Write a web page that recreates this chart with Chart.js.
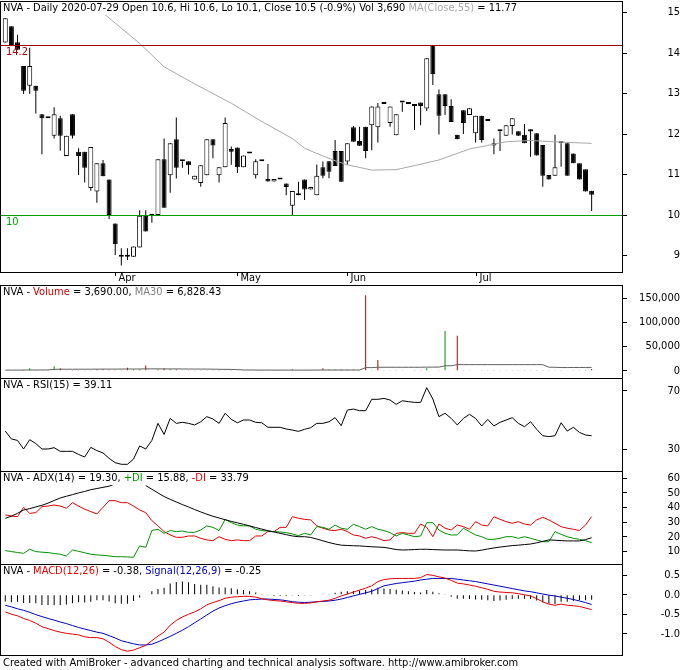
<!DOCTYPE html>
<html>
<head>
<meta charset="utf-8">
<script src="https://cdn.jsdelivr.net/npm/chart.js@4.4.0/dist/chart.umd.min.js"></script>
<style>
  body { margin: 0; background: #fff; width: 683px; height: 670px; position: relative; overflow: hidden; }
  canvas { position: absolute; left: 0; }
  #foot { position: absolute; left: 3px; top: 656px; font: 11px "DejaVu Sans Condensed", "DejaVu Sans", sans-serif; color: #000; white-space: nowrap; }
</style>
</head>
<body>
<canvas id="pricePane" width="683" height="285" style="top:0px"></canvas>
<canvas id="volPane" width="683" height="94" style="top:285px"></canvas>
<canvas id="rsiPane" width="683" height="94" style="top:378px"></canvas>
<canvas id="adxPane" width="683" height="94" style="top:471px"></canvas>
<canvas id="macdPane" width="683" height="92" style="top:564px"></canvas>
<div id="foot">Created with AmiBroker - advanced charting and technical analysis software. http://www.amibroker.com</div>
<script>
// daily bars, oldest first, last bar is 2020-07-29
const open = [14.26,14.66,14.27,13.68,13.19,13.19,12.49,12.39,11.96,12.39,
  11.46,12.49,11.56,11.56,10.67,10.58,11.28,10.88,9.79,8.97,
  8.97,8.97,9.20,9.98,9.98,10.00,11.38,10.98,11.87,11.33,
  11.33,10.88,10.79,10.98,11.87,10.98,11.18,11.63,11.67,11.18,
  11.52,10.98,11.33,10.89,10.83,10.88,10.78,10.23,10.49,10.88,
  10.63,10.49,11.18,11.33,11.58,11.58,11.32,12.17,11.83,12.18,
  12.22,12.17,12.79,12.27,11.97,12.78,12.79,12.74,12.78,12.63,
  14.20,12.98,12.98,12.69,11.98,12.59,12.47,12.02,12.45,12.32,
  11.72,12.07,11.96,12.20,12.07,11.98,12.12,12.02,11.73,10.99,
  10.97,11.77,11.77,11.52,11.28,11.13,10.60];
const high = [14.86,14.66,14.45,13.68,14.13,13.19,12.49,12.39,12.66,12.45,
  11.96,12.49,11.65,11.56,11.68,11.28,11.36,10.88,9.79,9.18,
  9.18,9.22,10.12,10.12,9.98,11.38,11.89,11.77,12.41,11.33,
  11.33,10.97,11.23,11.87,11.87,11.18,12.41,11.69,11.67,11.47,
  11.52,11.38,11.33,11.26,10.89,10.88,10.78,10.59,10.82,10.88,
  10.69,11.25,11.32,11.33,11.85,11.58,11.77,12.20,12.18,12.18,
  12.68,12.77,12.79,12.68,12.49,12.78,12.79,12.74,12.78,13.87,
  14.20,13.10,12.98,12.86,11.98,12.59,12.64,12.45,12.45,12.32,
  11.89,12.07,12.22,12.39,12.07,12.25,12.12,12.02,11.73,10.99,
  11.98,11.77,11.77,11.52,11.28,11.13,10.60];
const low = [14.26,14.20,14.08,12.99,12.99,12.51,11.50,12.39,11.89,11.59,
  11.46,11.89,10.99,10.80,10.60,10.30,10.96,9.90,9.01,8.75,
  8.89,8.97,9.20,9.59,9.81,10.00,10.18,10.55,10.90,11.17,
  11.00,10.88,10.70,10.98,11.40,10.80,11.18,11.24,11.04,11.18,
  11.52,10.90,11.33,10.83,10.83,10.88,10.49,10.00,10.49,10.37,
  10.63,10.49,10.91,10.91,11.21,10.82,11.24,11.81,11.71,11.40,
  11.60,11.79,12.74,12.18,11.97,12.55,12.74,12.10,12.22,12.57,
  13.21,11.99,12.47,12.30,11.87,12.00,12.47,11.79,11.79,12.32,
  11.50,11.58,11.96,11.99,11.96,11.77,11.44,11.47,10.70,10.88,
  10.97,11.19,10.97,11.28,10.88,10.58,10.10];
const close = [14.86,14.20,14.08,13.07,13.68,13.07,12.39,12.39,12.49,11.96,
  11.96,11.96,11.46,11.17,11.68,11.28,10.96,10.00,9.28,8.97,
  8.97,9.22,9.98,9.59,9.98,11.38,10.18,11.77,11.17,11.33,
  11.23,10.97,11.23,11.87,11.72,11.18,12.27,11.56,11.18,11.47,
  11.52,11.33,11.33,10.83,10.89,10.88,10.69,10.59,10.49,10.63,
  10.69,10.97,10.97,11.07,11.21,10.82,11.77,11.81,11.71,11.58,
  12.68,12.68,12.74,12.68,12.49,12.78,12.74,12.69,12.69,13.87,
  13.48,12.45,12.69,12.30,11.87,12.27,12.64,12.45,11.85,12.32,
  11.77,12.07,12.22,12.39,11.96,11.77,12.06,11.47,10.97,10.88,
  11.18,11.77,10.97,11.28,10.88,10.58,10.50];
// MA(Close,55) (gaps are bridged)
const priceMA55 = [null,null,null,null,null,null,null,null,null,null,
  null,null,null,null,null,15.12,14.99,null,null,null,
  null,null,14.24,null,null,null,13.66,null,null,null,
  null,13.24,null,null,null,null,null,12.76,null,null,
  null,null,12.31,null,null,null,null,11.89,null,11.65,
  null,11.52,null,null,11.34,null,11.24,null,null,null,
  11.11,null,null,null,11.12,null,null,11.22,null,null,
  null,11.36,null,null,null,null,11.63,null,null,null,
  null,null,11.81,null,null,null,11.84,null,null,null,
  null,11.80,null,null,null,null,11.77];
const volume = [1000,800,500,2200,5000,600,500,400,9000,5000,
  400,500,600,500,400,3000,3000,2000,2000,2000,
  6000,3000,3000,11000,800,3000,5000,3000,3000,500,
  500,500,500,500,500,1200,1200,300,300,300,
  300,300,300,300,300,300,300,3000,300,300,
  300,300,5000,2500,2500,2500,2500,2500,1500,156000,
  500,22000,300,300,300,300,1000,300,300,5000,
  1000,300,82000,1000,72000,300,300,1000,300,300,
  300,300,300,300,300,300,300,300,300,300,
  300,300,1000,300,300,300,3690];
const volMA30 = [1200,1250,1300,1350,1450,1450,1500,1550,2800,3000,
  3000,3000,3100,3100,3100,3200,3300,3300,3300,3400,
  3500,3500,3500,3800,3800,3800,3700,3700,3700,3600,
  3500,3400,3400,3300,3200,2900,2800,2700,2400,1500,
  1500,1400,1400,1400,1300,1300,1300,1300,1300,1300,
  1300,1400,1400,1400,1400,1400,1400,1400,1400,6400,
  6400,7100,7100,7100,7100,7100,7100,7100,7100,7400,
  7400,7400,10100,10100,12500,12500,12500,12500,12500,12500,
  12500,12500,12500,12500,12500,12500,12500,12500,12500,7200,
  7100,6500,6500,6600,6600,6700,6830];
const rsi15 = [42.3,36.9,35.9,30.0,36.4,33.7,30.0,30.0,30.9,28.4,
  28.4,28.4,26.3,24.5,31.1,28.9,27.3,23.6,20.6,19.5,
  19.5,23.1,32.1,30.0,35.9,47.6,40.0,51.0,47.6,48.3,
  47.6,46.5,48.7,52.2,50.6,47.6,54.5,50.3,48.0,49.9,
  49.9,48.3,48.0,44.9,44.9,44.9,43.7,43.0,42.1,43.5,
  44.6,47.6,47.6,48.7,51.5,46.0,56.7,57.4,56.3,56.3,
  64.1,64.1,64.7,63.6,60.6,63.1,62.5,62.0,62.0,72.1,
  64.3,52.2,54.5,51.0,46.5,51.0,53.8,51.0,45.8,50.3,
  45.8,48.3,49.9,51.5,47.6,45.3,48.7,43.5,39.1,38.5,
  39.1,48.0,42.3,44.9,41.4,39.6,39.11];
const adx14 = [32.6,34.0,36.0,38.3,39.2,40.4,41.5,43.0,44.8,46.5,
  47.7,48.8,50.0,51.0,52.2,53.0,53.8,54.6,56.2,null,
  null,null,null,55.0,52.5,50.0,47.5,45.6,43.8,42.0,
  40.4,38.6,37.0,35.4,34.0,32.8,31.6,30.5,29.5,28.5,
  27.4,26.3,25.2,24.1,23.2,22.3,21.4,20.5,20.0,20.0,
  19.5,18.4,17.2,16.0,15.0,14.2,14.0,13.8,13.7,13.4,
  13.1,12.9,12.7,12.0,11.2,10.9,11.0,11.2,11.4,11.4,
  11.2,11.0,10.9,10.9,10.9,10.6,10.3,10.2,10.8,11.6,
  12.3,12.9,13.4,13.9,14.2,14.6,15.0,15.8,16.8,17.8,
  17.6,17.3,17.1,17.1,17.1,18.0,19.3];
const plusDI = [10.5,9.8,9.2,8.6,11.4,9.8,9.4,9.1,8.5,8.0,
  6.8,10.9,10.0,9.0,8.0,7.5,7.3,6.8,6.3,6.3,
  6.1,5.9,13.7,12.7,24.2,25.1,22.3,24.2,23.5,23.9,
  23.0,23.0,24.6,27.4,26.4,24.2,31.9,29.6,28.0,27.4,
  27.4,25.1,24.2,23.9,23.5,23.2,22.8,21.9,20.7,22.3,
  21.2,26.9,26.4,25.1,28.0,25.8,25.1,28.5,26.9,25.1,
  26.9,25.1,24.2,22.8,20.5,22.3,21.2,20.0,20.5,29.6,
  29.6,24.6,22.3,21.2,21.2,25.8,23.5,21.2,20.0,18.2,
  18.2,18.9,20.0,20.0,18.9,20.0,18.9,17.8,16.6,16.6,
  23.5,21.6,20.0,18.9,18.2,17.3,15.88];
const minusDI = [34.9,34.2,33.7,40.1,36.0,36.5,40.6,41.0,41.7,41.0,
  39.5,43.3,41.0,38.8,37.2,35.6,40.1,44.7,44.7,43.3,
  43.3,41.0,38.3,36.5,31.0,27.4,23.5,21.2,19.6,19.6,
  20.5,20.5,18.9,17.8,17.3,20.0,18.2,17.3,17.8,17.3,
  17.3,20.5,20.5,23.5,23.5,26.4,26.4,33.7,32.6,31.9,
  31.5,27.4,25.8,24.6,24.2,25.1,23.5,21.2,20.5,18.9,
  20.0,18.9,17.3,17.8,22.3,22.8,22.3,22.3,28.7,26.4,
  20.0,28.7,25.8,24.6,28.0,26.9,25.1,30.3,28.0,27.4,
  33.7,31.9,30.3,29.2,30.3,28.7,28.0,31.5,33.3,31.5,
  29.2,26.9,25.8,25.1,24.2,28.0,33.79];
const macd = [-0.44,-0.50,-0.54,-0.61,-0.66,-0.73,-0.82,-0.87,-0.92,-0.96,
  -0.99,-1.01,-1.03,-1.08,-1.10,-1.10,-1.13,-1.22,-1.33,-1.41,
  -1.45,-1.42,-1.36,-1.30,-1.18,-1.06,-0.96,-0.78,-0.66,-0.57,
  -0.50,-0.44,-0.36,-0.26,-0.20,-0.15,-0.09,-0.06,-0.05,-0.04,
  -0.04,-0.06,-0.10,-0.13,-0.15,-0.16,-0.18,-0.20,-0.22,-0.22,
  -0.21,-0.18,-0.16,-0.14,-0.09,-0.03,0.02,0.07,0.12,0.17,
  0.23,0.34,0.39,0.41,0.42,0.42,0.42,0.42,0.44,0.52,
  0.50,0.46,0.43,0.37,0.30,0.28,0.25,0.22,0.18,0.14,
  0.09,0.07,0.06,0.05,0.03,0.00,-0.03,-0.10,-0.18,-0.24,
  -0.27,-0.24,-0.27,-0.28,-0.30,-0.34,-0.38];
const signal = [-0.27,-0.31,-0.36,-0.40,-0.45,-0.51,-0.56,-0.61,-0.65,-0.70,
  -0.74,-0.79,-0.84,-0.88,-0.92,-0.96,-0.99,-1.05,-1.11,-1.18,
  -1.22,-1.26,-1.29,-1.29,-1.27,-1.21,-1.14,-1.07,-0.99,-0.91,
  -0.82,-0.72,-0.62,-0.52,-0.42,-0.34,-0.28,-0.23,-0.19,-0.16,
  -0.13,-0.12,-0.11,-0.11,-0.12,-0.13,-0.15,-0.18,-0.19,-0.20,
  -0.19,-0.18,-0.17,-0.16,-0.14,-0.11,-0.07,-0.03,0.01,0.05,
  0.09,0.16,0.23,0.26,0.29,0.31,0.33,0.35,0.38,0.40,
  0.42,0.42,0.42,0.42,0.40,0.38,0.36,0.34,0.31,0.28,
  0.25,0.22,0.19,0.16,0.13,0.10,0.08,0.05,0.02,-0.01,
  -0.03,-0.06,-0.09,-0.12,-0.16,-0.20,-0.25];
const macdHist = [-0.17,-0.19,-0.18,-0.21,-0.21,-0.22,-0.26,-0.26,-0.27,-0.26,
  -0.25,-0.22,-0.19,-0.20,-0.18,-0.14,-0.14,-0.17,-0.22,-0.23,
  -0.23,-0.16,-0.07,-0.01,0.09,0.15,0.18,0.29,0.33,0.34,
  0.32,0.28,0.26,0.26,0.22,0.19,0.19,0.17,0.14,0.12,
  0.09,0.06,0.01,-0.02,-0.03,-0.03,-0.03,-0.02,-0.03,-0.02,
  -0.02,0.00,0.01,0.02,0.05,0.08,0.09,0.10,0.11,0.12,
  0.14,0.18,0.16,0.15,0.13,0.11,0.09,0.07,0.06,0.12,
  0.08,0.04,0.01,-0.05,-0.10,-0.10,-0.11,-0.12,-0.13,-0.14,
  -0.16,-0.15,-0.13,-0.11,-0.10,-0.10,-0.11,-0.15,-0.20,-0.23,
  -0.24,-0.18,-0.18,-0.16,-0.14,-0.14,-0.13];

const priceLevels = [14.2, 10];
const monthStarts = [18, 38, 56, 77];
const monthNames = ['Apr', 'May', 'Jun', 'Jul'];
const priceTicks = [9, 10, 11, 12, 13, 14, 15];
const volumeTicks = [0, 50000, 100000, 150000];
const rsiTicks = [30, 70];
const adxTicks = [10, 20, 30, 40, 50, 60];
const macdTicks = [-1, -0.5, 0, 0.5];

const bars = close.map((_, i) => i);
const FONT = '11px "DejaVu Sans Condensed", "DejaVu Sans", sans-serif';

// what each pane prints around its plot
const decor = {
  pricePane: {
    title: [['NVA - Daily 2020-07-29 Open 10.6, Hi 10.6, Lo 10.1, Close 10.5 (-0.9%) Vol 3,690 ', '#000'], ['MA(Close,55)', '#a8a8a8'], [' = 11.77', '#000']],
    fmt: v => String(v),
    levels: [{value: priceLevels[0], color: '#a00000'}, {value: priceLevels[1], color: '#00a000'}],
    months: true
  },
  volPane: {
    title: [['NVA - ', '#000'], ['Volume', '#c00000'], [' = 3,690.00, ', '#000'], ['MA30', '#808080'], [' = 6,828.43', '#000']],
    fmt: v => v.toLocaleString('en-US')
  },
  rsiPane: { title: [['NVA - RSI(15) = 39.11', '#000']], fmt: v => String(v) },
  adxPane: {
    title: [['NVA - ADX(14) = 19.30, ', '#000'], ['+DI', '#009000'], [' = 15.88, ', '#000'], ['-DI', '#e00000'], [' = 33.79', '#000']],
    fmt: v => String(v)
  },
  macdPane: {
    title: [['NVA - ', '#000'], ['MACD(12,26)', '#e00000'], [' = -0.38, ', '#000'], ['Signal(12,26,9)', '#0000c0'], [' = -0.25', '#000']],
    fmt: v => v.toFixed(1)
  }
};

const paneDecor = {
  id: 'paneDecor',
  afterDatasetsDraw(chart) {
    const d = decor[chart.canvas.id];
    if (!d.levels) return;
    const {ctx, chartArea: a, scales: {y}} = chart;
    ctx.save();
    ctx.font = FONT;
    ctx.textBaseline = 'top';
    d.levels.forEach(l => {
      const py = Math.round(y.getPixelForValue(l.value));
      ctx.fillStyle = l.color;
      ctx.fillRect(a.left, py, a.right - a.left, 1);
      ctx.fillText(String(l.value), a.left + 5, py + 2);
    });
    ctx.restore();
  },
  afterDraw(chart) {
    const d = decor[chart.canvas.id];
    const {ctx, chartArea: a, scales: {x, y}} = chart;
    ctx.save();
    ctx.font = FONT;
    ctx.textBaseline = 'top';
    // title sits on a white box, so it hides what runs under it
    const w = d.title.reduce((s, [t]) => s + ctx.measureText(t).width, 0);
    ctx.fillStyle = '#fff';
    ctx.fillRect(a.left, a.top, w + 5, 13);
    let tx = a.left + 2;
    d.title.forEach(([t, c]) => { ctx.fillStyle = c; ctx.fillText(t, tx, a.top + 1); tx += ctx.measureText(t).width; });
    // frame
    ctx.strokeStyle = '#000';
    ctx.lineWidth = 1;
    ctx.strokeRect(a.left - 0.5, a.top - 0.5, a.right - a.left + 1, a.bottom - a.top + 1);
    // value labels on the right
    ctx.fillStyle = '#000';
    ctx.textAlign = 'right';
    ctx.textBaseline = 'middle';
    y.ticks.forEach(t => ctx.fillText(d.fmt(t.value), 680, y.getPixelForValue(t.value)));
    // month marks under the price pane
    if (d.months) {
      ctx.textAlign = 'left';
      ctx.textBaseline = 'top';
      monthStarts.forEach((m, k) => {
        const px = Math.round(x.getPixelForValue(m)) + 0.5;
        ctx.beginPath(); ctx.moveTo(px, a.bottom); ctx.lineTo(px, a.bottom + 4); ctx.stroke();
        ctx.fillText(monthNames[k], px + 3, a.bottom + 1);
      });
    }
    ctx.restore();
  }
};

function paneOptions(yMin, yMax, yTicks, padTop, padBottom) {
  return {
    responsive: false,
    animation: false,
    events: [],
    layout: { padding: { left: 1, right: 0, top: padTop, bottom: padBottom } },
    datasets: { bar: { grouped: false, inflateAmount: 0, borderSkipped: false } },
    scales: {
      x: { type: 'linear', display: false, min: -0.7, max: 100.97, offset: false },
      y: {
        position: 'right', min: yMin, max: yMax,
        afterBuildTicks: s => { s.ticks = yTicks.map(v => ({ value: v })); },
        afterFit: s => { s.width = 61; },
        ticks: { display: false },
        grid: { drawOnChartArea: false, drawTicks: true, tickLength: 5, color: '#000' },
        border: { display: true, color: '#000' }
      }
    },
    plugins: { legend: { display: false }, tooltip: { enabled: false } }
  };
}

const lineSet = (data, color) => ({ type: 'line', data: data, borderColor: color, borderWidth: 1, pointRadius: 0, tension: 0 });

// price candles + MA
new Chart(document.getElementById('pricePane'), {
  type: 'bar',
  data: {
    labels: bars,
    datasets: [
      Object.assign(lineSet(priceMA55, '#a8a8a8'), { spanGaps: true }),
      {
        data: bars.map(i => [open[i], close[i]]),
        backgroundColor: bars.map(i => close[i] > open[i] ? '#fff' : '#000'),
        borderColor: '#000', borderWidth: 1, barThickness: 5, minBarLength: 2
      },
      { data: bars.map(i => [low[i], high[i]]), backgroundColor: '#000', borderWidth: 0, barThickness: 1 }
    ]
  },
  options: paneOptions(8.592, 15.262, priceTicks, 2, 13),
  plugins: [paneDecor]
});

// volume
new Chart(document.getElementById('volPane'), {
  type: 'bar',
  data: {
    labels: bars,
    datasets: [
      lineSet(volMA30, '#606060'),
      {
        data: volume,
        backgroundColor: bars.map(i => (i > 0 ? close[i] > close[i - 1] : close[i] > open[i]) ? '#009000' : '#b00000'),
        borderWidth: 0, barThickness: 1
      }
    ]
  },
  options: paneOptions(-15083, 175000, volumeTicks, 1, 1),
  plugins: [paneDecor]
});

// RSI
new Chart(document.getElementById('rsiPane'), {
  type: 'line',
  data: { labels: bars, datasets: [lineSet(rsi15, '#000')] },
  options: paneOptions(14.91, 78.03, rsiTicks, 1, 1),
  plugins: [paneDecor]
});

// ADX / DI
new Chart(document.getElementById('adxPane'), {
  type: 'line',
  data: {
    labels: bars,
    datasets: [lineSet(adx14, '#000'), lineSet(plusDI, '#009000'), lineSet(minusDI, '#e00000')]
  },
  options: paneOptions(1.30, 64.32, adxTicks, 1, 1),
  plugins: [paneDecor]
});

// MACD
new Chart(document.getElementById('macdPane'), {
  type: 'bar',
  data: {
    labels: bars,
    datasets: [
      lineSet(macd, '#e00000'),
      lineSet(signal, '#0000c0'),
      { data: macdHist, backgroundColor: '#000', borderWidth: 0, barThickness: 1 }
    ]
  },
  options: paneOptions(-1.547, 0.765, macdTicks, 1, 1),
  plugins: [paneDecor]
});
</script>
</body>
</html>
